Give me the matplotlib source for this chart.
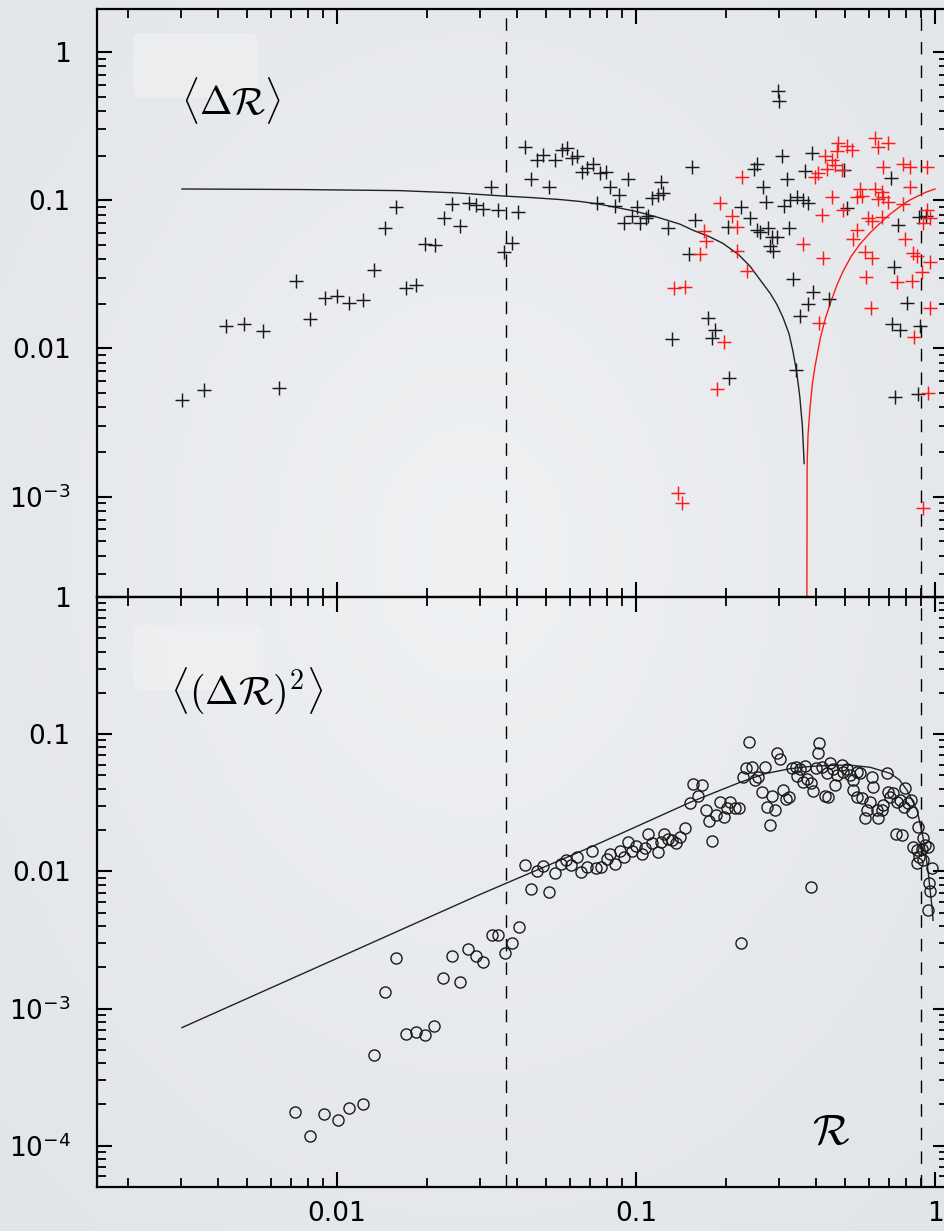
import numpy as np
import matplotlib.pyplot as plt
from matplotlib.ticker import LogLocator, FuncFormatter, NullFormatter
from matplotlib.colors import LinearSegmentedColormap
from matplotlib.patches import FancyBboxPatch

# <dR>: positive values (black) and |negative| values (red)
drift_x = [0.00303, 0.00359, 0.00425, 0.00489, 0.00566, 0.0064, 0.0073, 0.0081, 0.0091, 0.0100,
           0.0110, 0.0122, 0.0133, 0.0145, 0.0157, 0.0170, 0.0184, 0.0197, 0.0213, 0.0228,
           0.0243, 0.0258, 0.0276, 0.0292, 0.0308, 0.0327, 0.0345, 0.0362, 0.0385, 0.0403,
           0.0425, 0.0445, 0.0467, 0.0489, 0.0512, 0.0536, 0.0566, 0.0588, 0.0611, 0.0635,
           0.0660, 0.0686, 0.0718, 0.0741, 0.0758, 0.0794, 0.0819, 0.0851, 0.0877, 0.0912,
           0.094, 0.097, 0.101, 0.103, 0.108, 0.110, 0.113, 0.118, 0.121, 0.123,
           0.128, 0.154, 0.157, 0.150, 0.203, 0.224, 0.241, 0.254, 0.174, 0.184,
           0.180, 0.132, 0.205, 0.353, 0.376, 0.343, 0.735, 0.877, 0.718, 0.764,
           0.891, 0.806, 0.254, 0.248, 0.308, 0.388, 0.367, 0.320, 0.266, 0.272,
           0.260, 0.276, 0.285, 0.296, 0.281, 0.287, 0.325, 0.313, 0.327, 0.345,
           0.362, 0.376, 0.496, 0.508, 0.713, 0.751, 0.884, 0.933, 0.729, 0.335,
           0.391, 0.442, 0.298, 0.300]
drift_y = [0.00445, 0.0052, 0.0141, 0.0145, 0.0130, 0.0054, 0.0284, 0.0157, 0.0218, 0.0225,
           0.0201, 0.0211, 0.0337, 0.0647, 0.0897, 0.0254, 0.0267, 0.0504, 0.0497, 0.0756,
           0.094, 0.0667, 0.0954, 0.0925, 0.0869, 0.1225, 0.0855, 0.0445, 0.0512, 0.083,
           0.228, 0.139, 0.186, 0.201, 0.122, 0.186, 0.218, 0.225, 0.192, 0.198,
           0.155, 0.164, 0.175, 0.0954, 0.152, 0.155, 0.122, 0.091, 0.108, 0.070,
           0.139, 0.078, 0.0897, 0.070, 0.0756, 0.078, 0.103, 0.108, 0.132, 0.111,
           0.0647, 0.167, 0.0733, 0.0432, 0.0657, 0.0897, 0.0756, 0.0627, 0.0160, 0.0132,
           0.0117, 0.0115, 0.0063, 0.0165, 0.0198, 0.0072, 0.0047, 0.0049, 0.0145, 0.0134,
           0.0141, 0.0201, 0.175, 0.162, 0.198, 0.208, 0.157, 0.139, 0.122, 0.097,
           0.0608, 0.0647, 0.0562, 0.0562, 0.0489, 0.0452, 0.0647, 0.091, 0.100, 0.105,
           0.100, 0.0954, 0.160, 0.0883, 0.141, 0.0678, 0.0767, 0.078, 0.0353, 0.0292,
           0.0239, 0.0214, 0.545, 0.467]

drift_neg_x = [0.227, 0.191, 0.209, 0.218, 0.169, 0.171, 0.164, 0.218, 0.235, 0.134,
               0.146, 0.197, 0.187, 0.138, 0.143, 0.409, 0.611, 0.851, 0.948, 0.912,
               0.962, 0.474, 0.508, 0.527, 0.470, 0.630, 0.645, 0.697, 0.429, 0.453,
               0.464, 0.435, 0.397, 0.407, 0.489, 0.670, 0.782, 0.824, 0.940, 0.824,
               0.453, 0.419, 0.492, 0.362, 0.422, 0.561, 0.548, 0.570, 0.630, 0.665,
               0.670, 0.645, 0.697, 0.782, 0.597, 0.615, 0.665, 0.548, 0.532, 0.583,
               0.615, 0.794, 0.844, 0.871, 0.962, 0.905, 0.838, 0.746, 0.588, 0.940,
               0.962, 0.912]
drift_neg_y = [0.143, 0.0954, 0.078, 0.0657, 0.0618, 0.0528, 0.0432, 0.0452, 0.0331, 0.0254,
               0.0258, 0.011, 0.0053, 0.00105, 0.0009, 0.0148, 0.0186, 0.0119, 0.0050, 0.00084,
               0.0186, 0.243, 0.232, 0.218, 0.214, 0.262, 0.228, 0.243, 0.198, 0.186,
               0.172, 0.162, 0.143, 0.152, 0.160, 0.167, 0.175, 0.167, 0.167, 0.122,
               0.105, 0.0792, 0.0855, 0.0504, 0.0406, 0.119, 0.105, 0.106, 0.119, 0.113,
               0.105, 0.102, 0.097, 0.094, 0.0756, 0.0721, 0.0767, 0.0627, 0.0545, 0.0445,
               0.0406, 0.0545, 0.0438, 0.0418, 0.0381, 0.0326, 0.0284, 0.0279, 0.0302, 0.0855,
               0.0756, 0.070]

# model curve for <dR>, positive branch and |negative| branch
fit_pos_x = [0.00303, 0.0075, 0.0162, 0.025, 0.0351, 0.045, 0.0557, 0.065, 0.0741, 0.0851,
             0.100, 0.118, 0.140, 0.155, 0.175, 0.195, 0.220, 0.241, 0.260, 0.281,
             0.295, 0.310, 0.325, 0.335, 0.345, 0.353, 0.360, 0.365]
fit_pos_y = [0.119, 0.118, 0.116, 0.112, 0.107, 0.104, 0.101, 0.098, 0.0945, 0.0897,
             0.084, 0.0767, 0.069, 0.0627, 0.057, 0.0512, 0.043, 0.0357, 0.029, 0.0235,
             0.020, 0.0162, 0.0125, 0.0095, 0.0068, 0.0047, 0.0030, 0.00167]
fit_neg_x = [0.3725, 0.3735, 0.376, 0.382, 0.389, 0.397, 0.413, 0.430, 0.446, 0.470,
             0.492, 0.525, 0.561, 0.605, 0.655, 0.705, 0.764, 0.815, 0.871, 0.93, 1.0]
fit_neg_y = [1e-4, 0.00167, 0.0026, 0.0040, 0.0058, 0.0076, 0.0116, 0.0160, 0.0200, 0.0268,
             0.0330, 0.0420, 0.0505, 0.0600, 0.0700, 0.080, 0.0905, 0.099, 0.106, 0.113, 0.119]

# <(dR)^2>
diff_x = [0.00724, 0.00813, 0.00905, 0.0101, 0.0110, 0.0122, 0.0133, 0.0145, 0.0157, 0.0170,
          0.0184, 0.0197, 0.0211, 0.0226, 0.0243, 0.0258, 0.0274, 0.0292, 0.0308, 0.0330,
          0.0345, 0.0365, 0.0385, 0.0406, 0.0425, 0.0445, 0.0512, 0.0467, 0.0489, 0.0536,
          0.0561, 0.0583, 0.0607, 0.0635, 0.0655, 0.0686, 0.0713, 0.0735, 0.0764, 0.0800,
          0.0819, 0.0851, 0.0884, 0.0912, 0.0940, 0.0970, 0.100, 0.105, 0.107, 0.110,
          0.113, 0.118, 0.121, 0.124, 0.128, 0.132, 0.136, 0.140, 0.146, 0.152,
          0.155, 0.161, 0.166, 0.171, 0.175, 0.180, 0.185, 0.191, 0.197, 0.201,
          0.206, 0.214, 0.221, 0.224, 0.228, 0.233, 0.239, 0.244, 0.250, 0.256,
          0.264, 0.270, 0.274, 0.281, 0.285, 0.292, 0.296, 0.303, 0.310, 0.318,
          0.325, 0.332, 0.343, 0.345, 0.353, 0.362, 0.367, 0.373, 0.385, 0.385,
          0.391, 0.400, 0.406, 0.409, 0.419, 0.429, 0.435, 0.439, 0.446, 0.456,
          0.463, 0.470, 0.489, 0.492, 0.508, 0.520, 0.532, 0.532, 0.548, 0.548,
          0.561, 0.570, 0.583, 0.593, 0.606, 0.615, 0.621, 0.640, 0.645, 0.665,
          0.670, 0.691, 0.697, 0.707, 0.724, 0.741, 0.746, 0.764, 0.776, 0.788,
          0.794, 0.812, 0.831, 0.838, 0.844, 0.871, 0.871, 0.877, 0.884, 0.905,
          0.912, 0.912, 0.926, 0.947, 0.977, 0.955, 0.962, 0.947]
diff_y = [1.77e-4, 1.18e-4, 1.71e-4, 1.55e-4, 1.89e-4, 2.03e-4, 4.61e-4, 1.31e-3, 2.32e-3, 6.57e-4,
          6.79e-4, 6.46e-4, 7.51e-4, 1.66e-3, 2.40e-3, 1.55e-3, 2.70e-3, 2.40e-3, 2.17e-3, 3.41e-3,
          3.41e-3, 2.52e-3, 2.98e-3, 3.90e-3, 0.0112, 7.39e-3, 7.03e-3, 0.0100, 0.0109, 9.67e-3,
          0.0114, 0.0122, 0.0111, 0.0127, 9.84e-3, 0.0107, 0.0140, 0.0105, 0.0107, 0.0124,
          0.0133, 0.0114, 0.0140, 0.0127, 0.0163, 0.0140, 0.0152, 0.0133, 0.0147, 0.0186,
          0.0160, 0.0138, 0.0163, 0.0186, 0.0171, 0.0168, 0.0160, 0.0177, 0.0206, 0.0313,
          0.0432, 0.0353, 0.0425, 0.0279, 0.0232, 0.0166, 0.0256, 0.0319, 0.0248, 0.0288,
          0.0319, 0.0288, 0.0288, 2.98e-3, 0.0485, 0.0565, 0.0874, 0.0574, 0.0462, 0.0485,
          0.0377, 0.0574, 0.0293, 0.0217, 0.0353, 0.0279, 0.0727, 0.0657, 0.0390, 0.0335,
          0.0347, 0.0565, 0.0574, 0.0494, 0.0555, 0.0446, 0.0584, 0.0469, 0.0439, 7.64e-3,
          0.0384, 0.0565, 0.0727, 0.0860, 0.0574, 0.0353, 0.0519, 0.0347, 0.0614, 0.0555,
          0.0425, 0.0502, 0.0594, 0.0528, 0.0555, 0.0502, 0.0462, 0.0390, 0.0528, 0.0347,
          0.0519, 0.0341, 0.0244, 0.0279, 0.0319, 0.0485, 0.0410, 0.0279, 0.0244, 0.0279,
          0.0303, 0.0519, 0.0377, 0.0347, 0.0371, 0.0186, 0.0319, 0.0330, 0.0183, 0.0293,
          0.0404, 0.0313, 0.0330, 0.0270, 0.0150, 0.0142, 0.0116, 0.0210, 0.0127, 0.0145,
          0.0174, 0.0120, 0.0155, 0.0150, 0.0105, 8.17e-3, 7.15e-3, 5.19e-3]

diff_fit_x = [0.00303, 0.0301, 0.0729, 0.152, 0.190, 0.223, 0.270, 0.327, 0.370, 0.412,
              0.470, 0.520, 0.606, 0.707, 0.760, 0.806, 0.871, 0.912, 0.947, 0.977, 0.985]
diff_fit_y = [7.26e-4, 0.00679, 0.0155, 0.0319, 0.0388, 0.0446, 0.0515, 0.0560, 0.0578, 0.0588,
              0.0594, 0.0594, 0.0574, 0.0519, 0.0465, 0.039, 0.0279, 0.0177, 0.0102, 0.00546,
              0.00439]

vline_x = [0.0367, 0.90]

W, H = 945, 1231
fig = plt.figure(figsize=(W / 100, H / 100), dpi=100)

# soft background shading
bg = fig.add_axes([0, 0, 1, 1], zorder=-10)
yy, xx = np.mgrid[0:1:300j, 0:1:300j]
r = np.clip(np.hypot((xx - 0.5) / 0.75, (yy - 0.45) / 0.75), 0, 1)
bg_cmap = LinearSegmentedColormap.from_list('bg', ['#eff1f3', '#e1e4e8'])
bg.imshow(r, cmap=bg_cmap, aspect='auto', extent=[0, 1, 0, 1], vmin=0, vmax=1)
bg.axis('off')


def px_axes(left, top, right, bottom):
    return fig.add_axes([left / W, 1 - bottom / H, (right - left) / W, (bottom - top) / H])


def log_label(v, pos):
    if v >= 0.01:
        return f'{v:g}'
    return r'$10^{%d}$' % int(round(np.log10(v)))


ax1 = px_axes(97, 9, 948, 597)
ax2 = px_axes(97, 597, 948, 1187)

for ax in (ax1, ax2):
    ax.set_facecolor('none')
    ax.set_xscale('log')
    ax.set_yscale('log')
    ax.set_xlim(1.575e-3, 1.105)
    for s in ax.spines.values():
        s.set_linewidth(1.6)
    ax.xaxis.set_major_locator(LogLocator(base=10))
    ax.xaxis.set_minor_locator(LogLocator(base=10, subs=np.arange(2, 10)))
    ax.yaxis.set_major_locator(LogLocator(base=10))
    ax.yaxis.set_minor_locator(LogLocator(base=10, subs=np.arange(2, 10)))
    ax.xaxis.set_minor_formatter(NullFormatter())
    ax.yaxis.set_minor_formatter(NullFormatter())
    ax.yaxis.set_major_formatter(FuncFormatter(log_label))
    ax.xaxis.set_major_formatter(FuncFormatter(log_label))
    ax.tick_params(which='both', direction='in', top=True, right=True, labelsize=19)
    ax.tick_params(which='major', length=11, width=1.5)
    ax.tick_params(which='minor', length=6.5, width=1.3)
    ax.tick_params(axis='y', pad=19)
    ax.tick_params(axis='x', pad=10)
    for xv in vline_x:
        ax.axvline(xv, color='k', lw=1.0, ls=(0, (9, 8)), zorder=1)

ax1.set_ylim(2.1e-4, 1.95)
ax2.set_ylim(5e-5, 1.0)
ax1.tick_params(labelbottom=False)

# upper panel: mean displacement
ax1.plot(fit_pos_x, fit_pos_y, color='#222222', lw=1.0)
ax1.plot(fit_neg_x, fit_neg_y, color='#ff1a1a', lw=1.0)
ax1.plot(drift_x, drift_y, ls='none', marker='+', ms=10.5, mew=1.05, color='#1a1a1a')
ax1.plot(drift_neg_x, drift_neg_y, ls='none', marker='+', ms=10.5, mew=1.05, color='#ff1a1a')

# lower panel: mean squared displacement
ax2.plot(diff_fit_x, diff_fit_y, color='#222222', lw=1.0)
ax2.plot(diff_x, diff_y, ls='none', marker='o', ms=8, mew=1.0, mfc='none', mec='#1a1a1a')

# panel labels on faint boxes
for (l, t, r_, b) in [(133, 33, 258, 98), (133, 625, 263, 690)]:
    box = FancyBboxPatch((l / W, 1 - b / H), (r_ - l) / W, (b - t) / H,
                         boxstyle='round,pad=0,rounding_size=0.008',
                         transform=fig.transFigure, facecolor='#f2f2f2', alpha=0.6,
                         edgecolor='none', zorder=-5)
    fig.patches.append(box)

fig.text(231 / W, 1 - 100 / H, r'$\langle\Delta\mathcal{R}\rangle$', fontsize=28,
         ha='center', va='center', math_fontfamily='cm')
fig.text(170 / W, 1 - 691 / H, r'$\langle(\Delta\mathcal{R})^2\rangle$', fontsize=29,
         ha='left', va='center', math_fontfamily='cm')
fig.text(831 / W, 1 - 1132 / H, r'$\mathcal{R}$', fontsize=31,
         ha='center', va='center', math_fontfamily='cm')

fig.savefig('out.png', dpi=100)
